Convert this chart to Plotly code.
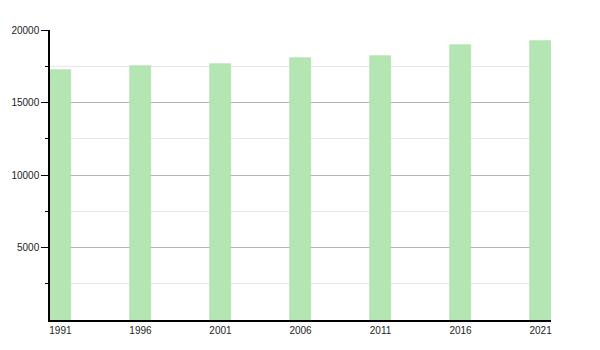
import plotly.graph_objects as go

years = [1991, 1996, 2001, 2006, 2011, 2016, 2021]
population = [17270, 17550, 17690, 18100, 18240, 19000, 19270]
year_labels = [str(y) for y in years]
y_major = [5000, 10000, 15000, 20000]
y_major_labels = [str(v) for v in y_major]
y_minor = [2500, 7500, 12500, 17500]

bar_w = 1.3

fig = go.Figure()
fig.add_trace(go.Bar(
    x=years, y=population, width=bar_w, offset=0,
    marker=dict(color="#b3e6b3", line=dict(color="#a8dca8", width=0.6)),
    hoverinfo="x+y",
))

fig.update_layout(
    width=600, height=350,
    margin=dict(l=50, r=49, t=30, b=30),
    paper_bgcolor="white", plot_bgcolor="white",
    showlegend=False,
    font=dict(family="Liberation Sans, Arial, sans-serif", size=10, color="#222"),
    bargap=0,
)
fig.update_xaxes(
    range=[1991, 2022.3],
    tickmode="array",
    tickvals=[y + bar_w / 2 for y in years],
    ticktext=year_labels,
    ticks="", showgrid=False, zeroline=False,
    showline=True, linecolor="black", linewidth=1.5,
)
fig.update_yaxes(
    range=[0, 20000],
    tickmode="array", tickvals=y_major, ticktext=y_major_labels,
    ticks="outside", ticklen=7, tickcolor="black", tickwidth=1,
    showgrid=True, gridcolor="#b4b4b4", gridwidth=1,
    zeroline=False,
    showline=True, linecolor="black", linewidth=1.5,
    minor=dict(tickmode="array", tickvals=y_minor, ticks="outside", ticklen=3,
               tickcolor="black", showgrid=True, gridcolor="#e8e8e8", gridwidth=1),
)

fig.write_html("out.html")
